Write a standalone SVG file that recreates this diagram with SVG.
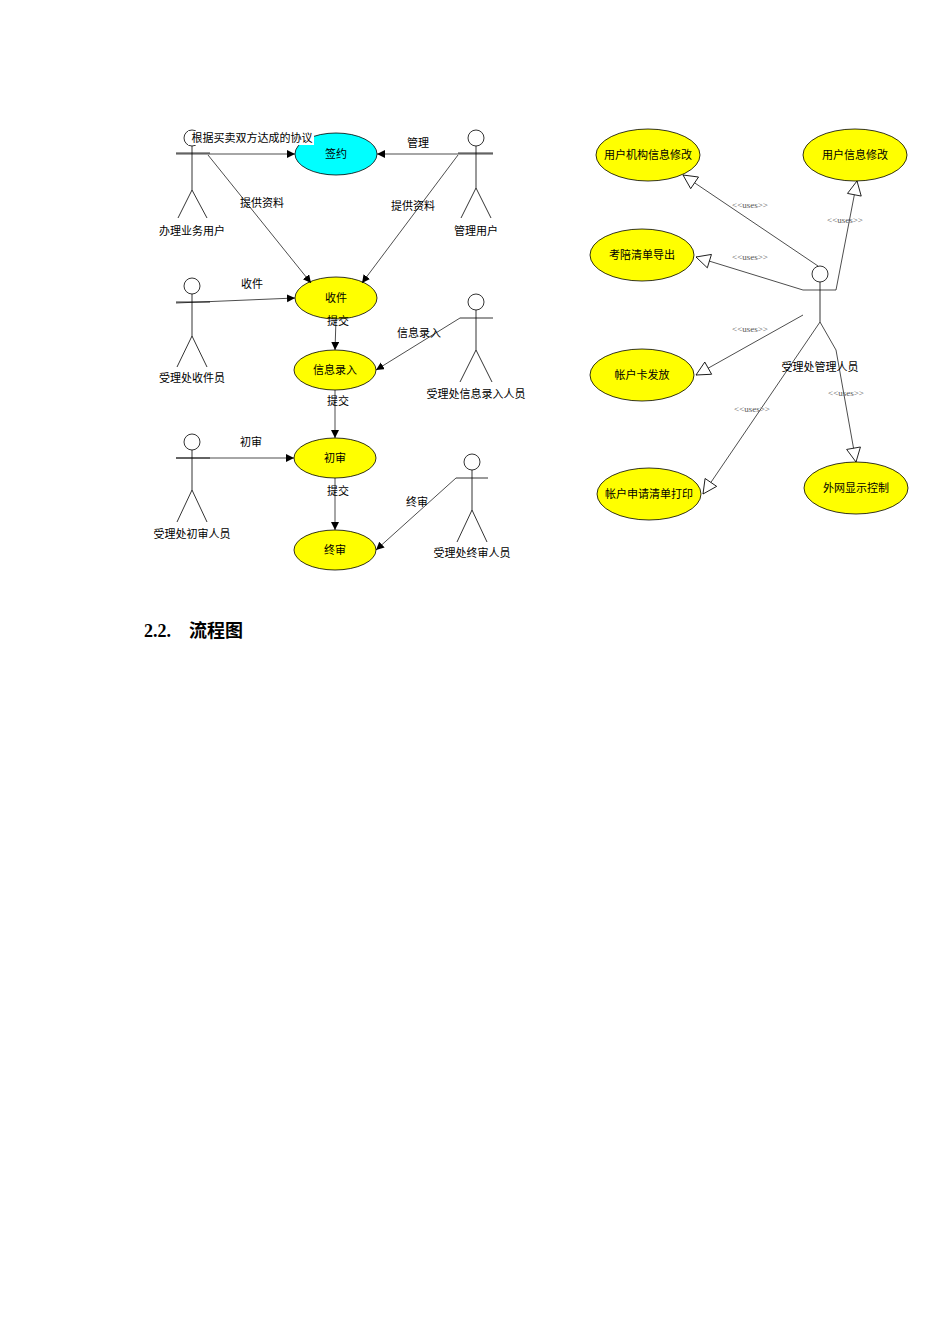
<svg xmlns="http://www.w3.org/2000/svg" width="950" height="1344" viewBox="0 0 950 1344">
<style>
.a{fill:none;stroke:#000;stroke-width:0.8}
.e{fill:#ffff00;stroke:#000;stroke-width:0.8}
.c{fill:#00ffff;stroke:#000;stroke-width:0.8}
.t{font-family:"Noto Sans CJK SC",sans-serif;font-size:11px;fill:#000;text-anchor:middle}
.u{font-family:"Liberation Serif",serif;font-size:9px;fill:#555;text-anchor:middle}
.l{stroke:#000;stroke-width:0.7;fill:none}
</style>
<defs>
<marker id="f" markerUnits="userSpaceOnUse" markerWidth="10" markerHeight="10" refX="8" refY="4" orient="auto"><path d="M0,0 L8,4 L0,8 Z" fill="#000"/></marker>
<marker id="h" markerUnits="userSpaceOnUse" markerWidth="18" markerHeight="18" refX="15" refY="8" orient="auto"><path d="M1,1 L15,8 L1,15 Z" fill="#fff" stroke="#000" stroke-width="0.8"/></marker>
</defs>
<rect width="950" height="1344" fill="#fff"/>
<g id="actors">
<g id="a1"><circle class="a" cx="192" cy="138" r="8"/><path class="a" d="M192,146V190M176,153H210M192,190L178,218M192,190L207,218"/><text class="t" x="192" y="235">办理业务用户</text></g>
<g id="a2"><circle class="a" cx="476" cy="138" r="8"/><path class="a" d="M476,146V188M458,153H493M476,188L461,218M476,188L491,218"/><text class="t" x="476" y="235">管理用户</text></g>
<g id="a3"><circle class="a" cx="192" cy="286" r="8"/><path class="a" d="M192,294V336M176,302H210M192,336L177,367M192,336L207,367"/><text class="t" x="192" y="382">受理处收件员</text></g>
<g id="a4"><circle class="a" cx="476" cy="302" r="8"/><path class="a" d="M476,310V350M460,318H493M476,350L460,382M476,350L492,382"/><text class="t" x="476" y="398">受理处信息录入人员</text></g>
<g id="a5"><circle class="a" cx="192" cy="442" r="8"/><path class="a" d="M192,450V490M176,458H210M192,490L177,522M192,490L207,522"/><text class="t" x="192" y="538">受理处初审人员</text></g>
<g id="a6"><circle class="a" cx="472" cy="462" r="8"/><path class="a" d="M472,470V510M456,478H488M472,510L457,542M472,510L487,542"/><text class="t" x="472" y="557">受理处终审人员</text></g>
<g id="a7"><circle class="a" cx="820" cy="274" r="8"/><path class="a" d="M820,282V322"/><text class="t" x="820" y="371">受理处管理人员</text></g>
</g>
<g id="usecases">
<g id="u1"><ellipse class="c" cx="336" cy="154" rx="41" ry="21"/><text class="t" x="336" y="158">签约</text></g>
<g id="u2"><ellipse class="e" cx="336" cy="298" rx="41" ry="21"/><text class="t" x="336" y="302">收件</text></g>
<g id="u3"><ellipse class="e" cx="335" cy="370" rx="41" ry="20"/><text class="t" x="335" y="374">信息录入</text></g>
<g id="u4"><ellipse class="e" cx="335" cy="458" rx="41" ry="20"/><text class="t" x="335" y="462">初审</text></g>
<g id="u5"><ellipse class="e" cx="335" cy="550" rx="41" ry="20"/><text class="t" x="335" y="554">终审</text></g>
<g id="u6"><ellipse class="e" cx="648" cy="155" rx="52" ry="26"/><text class="t" x="648" y="159">用户机构信息修改</text></g>
<g id="u7"><ellipse class="e" cx="855" cy="155" rx="52" ry="26"/><text class="t" x="855" y="159">用户信息修改</text></g>
<g id="u8"><ellipse class="e" cx="642" cy="255" rx="52" ry="26"/><text class="t" x="642" y="259">考陪清单导出</text></g>
<g id="u9"><ellipse class="e" cx="642" cy="375" rx="52" ry="26"/><text class="t" x="642" y="379">帐户卡发放</text></g>
<g id="u10"><ellipse class="e" cx="649" cy="494" rx="52" ry="26"/><text class="t" x="649" y="498">帐户申请清单打印</text></g>
<g id="u11"><ellipse class="e" cx="856" cy="488" rx="52" ry="26"/><text class="t" x="856" y="492">外网显示控制</text></g>
</g>
<g id="connectors">
<path class="l" d="M176,154H295" marker-end="url(#f)"/>
<rect x="188" y="131" width="126" height="14" fill="#fff"/>
<text class="t" x="252" y="142">根据买卖双方达成的协议</text>
<path class="l" d="M493,154H377" marker-end="url(#f)"/><text class="t" x="418" y="147">管理</text>
<path class="l" d="M208,155L311,283" marker-end="url(#f)"/><text class="t" x="262" y="207">提供资料</text>
<path class="l" d="M458,155L362,283" marker-end="url(#f)"/><text class="t" x="413" y="210">提供资料</text>
<path class="l" d="M176,303L295,298" marker-end="url(#f)"/><text class="t" x="252" y="288">收件</text>
<path class="l" d="M336,319L335,350" marker-end="url(#f)"/><text class="t" x="338" y="325">提交</text>
<path class="l" d="M460,318L376,370" marker-end="url(#f)"/><text class="t" x="419" y="337">信息录入</text>
<path class="l" d="M335,390V438" marker-end="url(#f)"/><text class="t" x="338" y="405">提交</text>
<path class="l" d="M176,458H294" marker-end="url(#f)"/><text class="t" x="251" y="446">初审</text>
<path class="l" d="M335,478V530" marker-end="url(#f)"/><text class="t" x="338" y="495">提交</text>
<path class="l" d="M456,478L376,550" marker-end="url(#f)"/><text class="t" x="417" y="506">终审</text>
<path class="l" d="M818,266L683,175" marker-end="url(#h)"/><text class="u" x="750" y="208">&lt;&lt;uses&gt;&gt;</text>
<path class="l" d="M836,290L857,181" marker-end="url(#h)"/><text class="u" x="845" y="223">&lt;&lt;uses&gt;&gt;</text>
<path class="l" d="M836,290H803L696,257" marker-end="url(#h)"/><text class="u" x="750" y="260">&lt;&lt;uses&gt;&gt;</text>
<path class="l" d="M803,315L696,375" marker-end="url(#h)"/><text class="u" x="750" y="332">&lt;&lt;uses&gt;&gt;</text>
<path class="l" d="M820,322L703,494" marker-end="url(#h)"/><text class="u" x="752" y="412">&lt;&lt;uses&gt;&gt;</text>
<path class="l" d="M820,322L836,350L856,462" marker-end="url(#h)"/><text class="u" x="846" y="396">&lt;&lt;uses&gt;&gt;</text>
</g>
<text x="144" y="637" font-family="Liberation Serif,serif" font-size="18" font-weight="bold">2.2.</text>
<text x="189" y="637" font-family="Noto Sans CJK SC,sans-serif" font-size="18" font-weight="bold">流程图</text>
</svg>
